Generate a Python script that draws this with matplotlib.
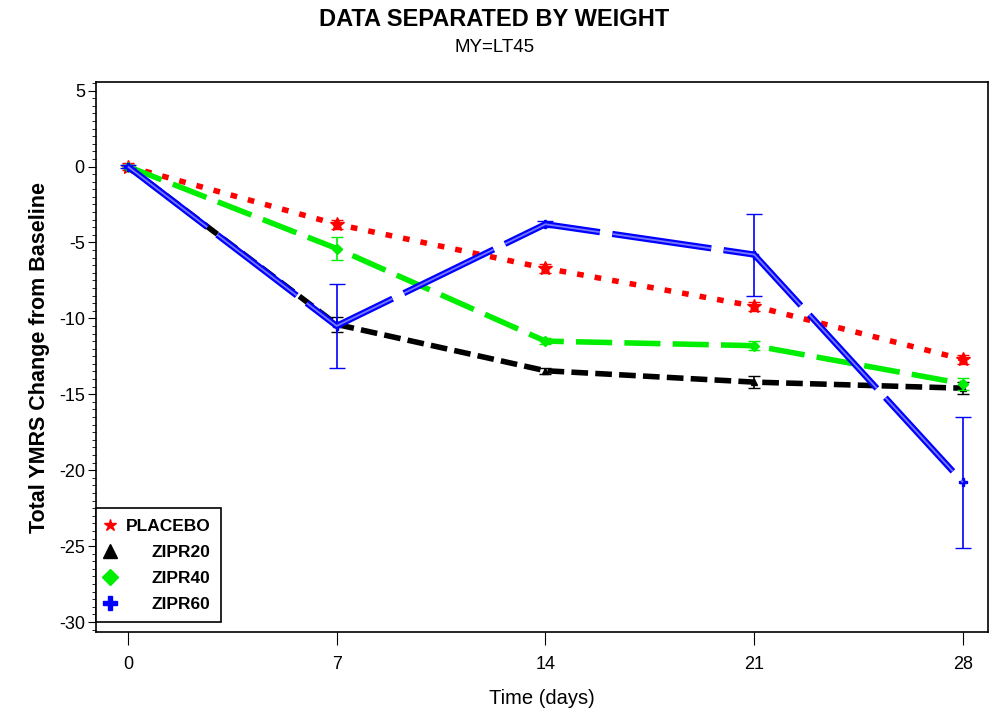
import matplotlib
matplotlib.use("Agg")
import matplotlib.pyplot as plt
from matplotlib.ticker import MultipleLocator

plt.rcParams['font.family'] = ['Liberation Sans', 'DejaVu Sans']
plt.rcParams['axes.unicode_minus'] = False

days = [0, 7, 14, 21, 28]

placebo = [0, -3.8, -6.7, -9.2, -12.7]
placebo_err = [0.2, 0.3, 0.3, 0.3, 0.3]
zipr20 = [0, -10.4, -13.45, -14.2, -14.6]
zipr20_err = [0.1, 0.5, 0.2, 0.4, 0.4]
zipr40 = [0, -5.4, -11.5, -11.8, -14.3]
zipr40_err = [0.1, 0.75, 0.2, 0.3, 0.4]
zipr60 = [0, -10.5, -3.8, -5.8, -20.8]
zipr60_err = [0.1, 2.75, 0.2, 2.7, 4.3]

labels = ['PLACEBO', 'ZIPR20', 'ZIPR40', 'ZIPR60']

fig = plt.figure(figsize=(9.89, 7.17), dpi=100)
ax = fig.add_axes([0.097, 0.1185, 0.902, 0.767])

# placebo - red dotted
ax.errorbar(days, placebo, yerr=placebo_err, color='#ff0000', lw=4,
            dashes=(1.2, 2.0), marker='*', ms=10, capsize=4, elinewidth=1.2, zorder=3)
# zipr20 - black dashed
ax.errorbar(days, zipr20, yerr=zipr20_err, color='black', lw=4,
            dashes=(3.0, 1.3), marker='^', ms=5, capsize=4, elinewidth=1.2, zorder=4)
# zipr40 - green long dash
ax.errorbar(days, zipr40, yerr=zipr40_err, color='#00ee00', lw=4,
            dashes=(6.5, 2.2), marker='D', ms=5, capsize=4, elinewidth=1.2, zorder=5)
# zipr60 - blue double line
ax.errorbar(days, zipr60, yerr=zipr60_err, color='#0000ff', lw=4.5,
            dashes=(16, 2), marker='P', ms=6, capsize=6, elinewidth=1.2, zorder=6)
ax.plot(days, zipr60, color='#7777ff', lw=1.3,
        dashes=(16 * 4.5 / 1.3, 2 * 4.5 / 1.3), zorder=7)

ax.set_xlim(-1.07, 28.84)
ax.set_ylim(-30.66, 5.56)
ax.set_xticks(days)
ax.yaxis.set_major_locator(MultipleLocator(5))
ax.yaxis.set_minor_locator(MultipleLocator(0.5))
ax.tick_params(axis='x', direction='out', length=9, labelsize=13, pad=8)
ax.tick_params(axis='y', which='major', direction='out', length=6, labelsize=13, pad=2)
ax.tick_params(axis='y', which='minor', direction='out', length=3)
for s in ax.spines.values():
    s.set_linewidth(1.2)

ax.set_xlabel('Time (days)', fontsize=14.5, labelpad=12)
ax.set_ylabel('Total YMRS Change from Baseline', fontsize=15.5, fontweight='bold', labelpad=6)

fig.text(0.5, 0.973, 'DATA SEPARATED BY WEIGHT', ha='center', va='center',
         fontsize=17, fontweight='bold')
fig.text(0.5, 0.934, 'MY=LT45', ha='center', va='center', fontsize=13.5)

handles = [
    plt.Line2D([], [], color='#ff0000', marker='*', ls='none', ms=9),
    plt.Line2D([], [], color='black', marker='^', ls='none', ms=10),
    plt.Line2D([], [], color='#00ee00', marker='D', ls='none', ms=8),
    plt.Line2D([], [], color='#0000ff', marker='P', ls='none', ms=10),
]
leg = ax.legend(handles, labels, loc='lower left',
                bbox_to_anchor=(0.0, 0.018), fancybox=False, edgecolor='black',
                framealpha=1, prop={'weight': 'bold', 'size': 12.5},
                handlelength=0.4, handletextpad=0.7, borderaxespad=0.0,
                borderpad=0.6, labelspacing=0.62, markerfirst=True)
leg.get_frame().set_linewidth(1.2)

# right-align the legend labels
fig.canvas.draw()
texts = leg.get_texts()
widths = [t.get_window_extent().width for t in texts]
wmax = max(widths)
for t, w in zip(texts, widths):
    t.set_position((wmax - w, 0))

fig.savefig('out.png', dpi=100)
